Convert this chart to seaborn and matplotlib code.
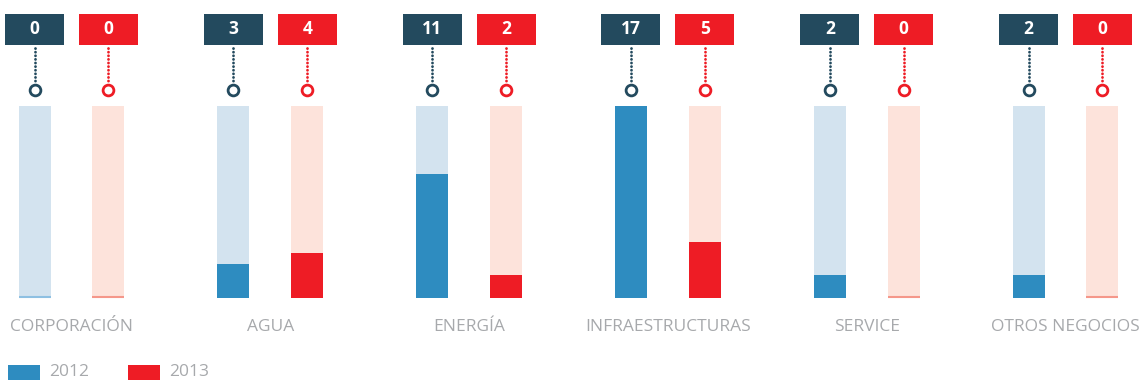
import seaborn as sns
import matplotlib.pyplot as plt
import pandas as pd
from matplotlib.patches import Rectangle

categories = ["CORPORACIÓN", "AGUA", "ENERGÍA", "INFRAESTRUCTURAS", "SERVICE", "OTROS NEGOCIOS"]
years = ["2012", "2013"]
v2012 = [0, 3, 11, 17, 2, 2]
v2013 = [0, 4, 2, 5, 0, 0]
vmax = 17

rows = []
for c, a, b in zip(categories, v2012, v2013):
    rows.append({"cat": c, "year": "2012", "val": a, "bg": vmax})
    rows.append({"cat": c, "year": "2013", "val": b, "bg": vmax})
df = pd.DataFrame(rows)

BLUE = "#2e8cc0"
RED = "#ee1c25"
LBLUE = "#d3e3ef"
LRED = "#fde3db"
DARK = "#234a5e"
GRAY = "#a7a9ac"
ZLINE = {"2012": "#8ec0e2", "2013": "#f5978a"}
box_col = {"2012": DARK, "2013": RED}

sns.set_theme(style="white")
plt.rcParams['font.family'] = ['Open Sans', 'DejaVu Sans']

W, H = 1140, 381
fig = plt.figure(figsize=(W / 100, H / 100), dpi=100)
ax = fig.add_axes([0, 0, 1, 1])

ppu = 192 / vmax          # pixels per value unit
x0, xs = 71.5, 198.8      # pixel of first group center, pixels per group

def yd(py):
    return (298 - py) / ppu

bw = 0.744
gap = 0.567
sns.barplot(data=df, x="cat", y="bg", hue="year", hue_order=years, order=categories,
            palette={"2012": LBLUE, "2013": LRED}, width=bw, gap=gap, dodge=True,
            linewidth=0, legend=False, ax=ax, errorbar=None, saturation=1)
sns.barplot(data=df, x="cat", y="val", hue="year", hue_order=years, order=categories,
            palette={"2012": BLUE, "2013": RED}, width=bw, gap=gap, dodge=True,
            linewidth=0, legend=False, ax=ax, errorbar=None, saturation=1)

ax.set_xlim(-x0 / xs, (W - x0) / xs)
ax.set_ylim(yd(H), yd(0))
ax.axis("off")

bw_data = 59 / xs
bh_data = 31 / ppu
vals = {"2012": v2012, "2013": v2013}
val_containers = ax.containers[2:]
for yr, cont in zip(years, val_containers):
    for i, p in enumerate(cont.patches):
        cx = p.get_x() + p.get_width() / 2
        v = vals[yr][i]
        col = box_col[yr]
        ax.add_patch(Rectangle((cx - bw_data / 2, yd(45)), bw_data, bh_data,
                               facecolor=col, edgecolor="none", zorder=5))
        ax.text(cx, yd(29.5), str(v), ha="center", va="center", color="white",
                fontsize=12.5, fontweight="bold", zorder=6)
        ax.plot([cx, cx], [yd(48), yd(81)], color=col, lw=2.0,
                linestyle=(0, (0.05, 1.25)), dash_capstyle="round", zorder=4)
        ax.scatter([cx], [yd(89.5)], s=60, facecolor="white", edgecolor=col,
                   linewidth=2.0, zorder=5)
        if v == 0:
            ax.plot([p.get_x(), p.get_x() + p.get_width()], [0.05, 0.05],
                    color=ZLINE[yr], lw=1.5, solid_capstyle="butt", zorder=3)

for i, c in enumerate(categories):
    ax.text(i, yd(327), c, ha="center", va="center", color=GRAY, fontsize=12.5)

# legend
for (lx, col, lab) in [(8, BLUE, "2012"), (128, RED, "2013")]:
    fig.patches.append(Rectangle((lx / W, (H - 380) / H), 32 / W, 15 / H,
                                 facecolor=col, edgecolor="none",
                                 transform=fig.transFigure, figure=fig))
    fig.text((lx + 41) / W, (H - 372.5) / H, lab, ha="left", va="center",
             color=GRAY, fontsize=12.5)

fig.savefig("out.png", dpi=100)
